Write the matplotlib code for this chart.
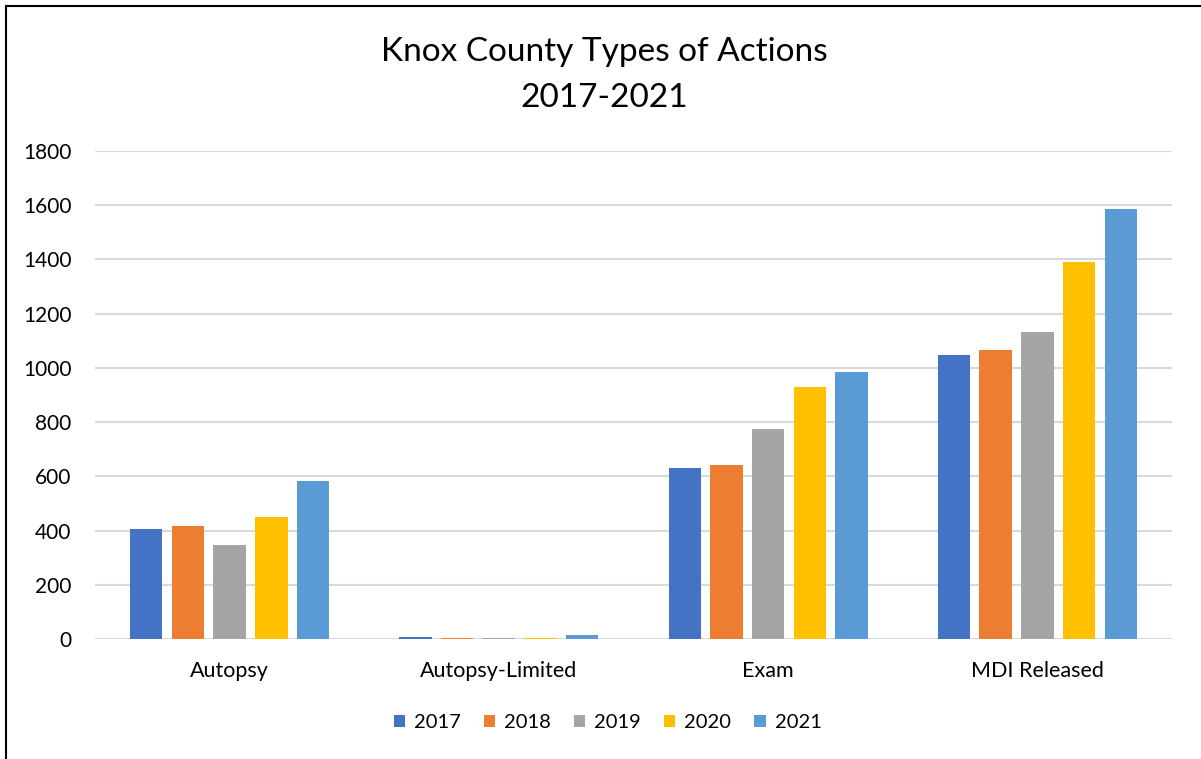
import numpy as np
import matplotlib.pyplot as plt
from matplotlib.lines import Line2D

plt.rcParams['font.family'] = ['Lato', 'DejaVu Sans']

categories = ["Autopsy", "Autopsy-Limited", "Exam", "MDI Released"]
years = ["2017", "2018", "2019", "2020", "2021"]
values = {
    "2017": [406, 8, 631, 1047],
    "2018": [418, 3, 642, 1067],
    "2019": [348, 2, 776, 1131],
    "2020": [450, 5, 931, 1391],
    "2021": [583, 16, 985, 1585],
}
colors = ["#4472C4", "#ED7D31", "#A5A5A5", "#FFC000", "#5B9BD5"]

fig = plt.figure(figsize=(12.01, 7.59), dpi=100)
ax = fig.add_axes([95 / 1201, 1 - 639 / 759, (1172 - 95) / 1201, (639 - 151) / 759])

x = np.arange(len(categories))
step = 0.155
width = 0.12
for i, yr in enumerate(years):
    ax.bar(x + (i - 2) * step, values[yr], width=width, color=colors[i],
           label=yr, zorder=3)

ax.set_xlim(-0.5, len(categories) - 0.5)
ax.set_ylim(0, 1800)
ax.set_yticks(range(0, 1801, 200))
ax.set_xticks(x)
ax.set_xticklabels(categories)
ax.grid(axis='y', color='#d9d9d9', linewidth=1.5, zorder=0)
for s in ax.spines.values():
    s.set_visible(False)
ax.tick_params(axis='both', length=0, labelsize=15.5, colors='#000000')
ax.tick_params(axis='y', labelsize=15, pad=17)
ax.tick_params(axis='x', pad=16)

fig.text(0.503, 1 - 52 / 759, "Knox County Types of Actions", ha='center', va='center', fontsize=24)
fig.text(0.503, 1 - 98 / 759, "2017-2021", ha='center', va='center', fontsize=24)

leg = fig.legend(loc='center', bbox_to_anchor=(0.506, 1 - 723 / 759), ncol=5, frameon=False,
                 fontsize=14.5, handlelength=0.55, handleheight=0.55, handletextpad=0.45,
                 columnspacing=1.15)

# outer frame (left and top edges)
fig.add_artist(Line2D([6 / 1201, 6 / 1201], [0, 1 - 6 / 759], color='black', linewidth=1.5,
                      transform=fig.transFigure))
fig.add_artist(Line2D([6 / 1201, 1], [1 - 6 / 759, 1 - 6 / 759], color='black', linewidth=1.5,
                      transform=fig.transFigure))

fig.savefig("out.png", dpi=100)
